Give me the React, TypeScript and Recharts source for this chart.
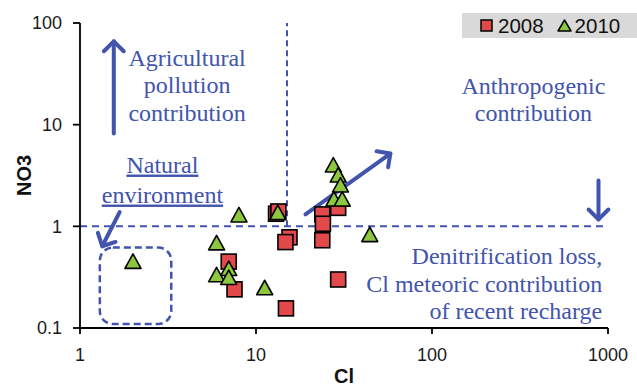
import React from 'react';
import { ScatterChart, Scatter, XAxis, YAxis, ReferenceLine, ReferenceArea, ReferenceDot, Legend } from 'recharts';

// Cl vs NO3 (mg/L), two sampling campaigns
const cl2008 = [13.0, 13.4, 15.5, 14.7, 7.0, 7.55, 14.8, 29.3, 23.8, 24.0, 23.8, 29.3];
const no32008 = [1.33, 1.4, 0.78, 0.7, 0.45, 0.24, 0.156, 1.52, 1.31, 1.06, 0.73, 0.3];
const cl2010 = [2.0, 5.97, 7.0, 5.97, 7.0, 11.2, 8.0, 13.3, 27.5, 29.3, 30.2, 27.7, 30.9, 44.3];
const no32010 = [0.447, 0.68, 0.38, 0.33, 0.31, 0.246, 1.28, 1.35, 3.96, 3.16, 2.52, 1.83, 1.83, 0.82];

const xTicks = [1, 10, 100, 1000];
const yTicks = [0.1, 1, 10, 100];

// thresholds (Cl = 15, NO3 = 1)
const clLimit = 15;
const no3Limit = 1;

// arrows, in data units [cl, no3]
const arrows = [
  { from: [1.556, 8.2], to: [1.556, 66] },
  { from: [19.1, 1.31], to: [58, 5.2] },
  { from: [1.68, 1.38], to: [1.337, 0.637] },
  { from: [883, 2.82], to: [883, 1.17] },
];

// text notes: anchor point in data units
const notes = [
  { cl: 4.06, no3: 37.9, anchor: 'middle', lines: ['Agricultural', 'pollution', 'contribution'], underline: false },
  { cl: 377, no3: 20.1, anchor: 'middle', lines: ['Anthropogenic', 'contribution'], underline: false },
  { cl: 2.94, no3: 3.38, anchor: 'middle', lines: ['Natural', 'environment'], underline: true },
  { cl: 927, no3: 0.424, anchor: 'end', lines: ['Denitrification loss,', 'Cl meteoric contribution', 'of recent recharge'], underline: false },
];

// natural background box
const naturalBox = { cl1: 1.296, cl2: 3.3, no31: 0.1095, no32: 0.618 };

const data2008 = cl2008.map((cl, i) => ({ cl, no3: no32008[i] }));
const data2010 = cl2010.map((cl, i) => ({ cl, no3: no32010[i] }));

const RED = '#e2494b';
const GREEN = '#8dc63f';
const BLUE = '#4254ad';
const SANS = '"Liberation Sans"';
const SERIF = '"Liberation Serif"';

const Square = (p: any) => (
  <rect x={p.cx - 7.5} y={p.cy - 7.5} width={15} height={15} fill={RED} stroke="#000" strokeWidth={1.6} />
);

const Tri = (p: any) => (
  <polygon
    points={`${p.cx},${p.cy - 8} ${p.cx + 8},${p.cy + 6.5} ${p.cx - 8},${p.cy + 6.5}`}
    fill={GREEN}
    stroke="#000"
    strokeWidth={1.6}
    strokeLinejoin="round"
  />
);

const Arrow = (p: any) => {
  const { x1, y1, x2, y2 } = p;
  const a = Math.atan2(y2 - y1, x2 - x1);
  const h = 14;
  const lx = x2 - h * Math.cos(a - Math.PI / 4);
  const ly = y2 - h * Math.sin(a - Math.PI / 4);
  const rx = x2 - h * Math.cos(a + Math.PI / 4);
  const ry = y2 - h * Math.sin(a + Math.PI / 4);
  return (
    <g stroke={BLUE} strokeWidth={4} fill="none" strokeLinecap="round" strokeLinejoin="round">
      <line x1={x1} y1={y1} x2={x2} y2={y2} />
      <polyline points={`${lx},${ly} ${x2},${y2} ${rx},${ry}`} />
    </g>
  );
};

const noteShape = (n: any) => (p: any) => (
  <text x={p.cx} y={p.cy} textAnchor={n.anchor} fill={BLUE} fontFamily={SERIF} fontSize={24} style={{ fontFamily: SERIF, fontSize: 24 }}>
    {n.lines.map((t: string, i: number) => (
      <tspan key={i} x={p.cx} dy={i === 0 ? 0 : n.underline ? 30 : 27.5} textDecoration={n.underline ? 'underline' : undefined} style={{ fontFamily: SERIF }}>
        {t}
      </tspan>
    ))}
  </text>
);

const BoxShape = (p: any) => (
  <rect x={p.x} y={p.y} width={p.width} height={p.height} rx={13} ry={13} fill="none" stroke={BLUE} strokeWidth={2.5} strokeDasharray="7 4" />
);

const LegendBox = () => (
  <div
    style={{
      display: 'flex',
      alignItems: 'center',
      height: 25,
      width: 175,
      background: '#d9d9d9',
      fontFamily: SANS,
      fontSize: 20.5,
      color: '#111',
      lineHeight: '25px',
    }}
  >
    <svg width={13} height={13} style={{ marginLeft: 18 }}>
      <rect x={1} y={1} width={11} height={11} fill={RED} stroke="#000" strokeWidth={1.5} />
    </svg>
    <span style={{ marginLeft: 5 }}>2008</span>
    <svg width={15} height={13} style={{ marginLeft: 13 }}>
      <polygon points="7.5,1 14,12 1,12" fill={GREEN} stroke="#000" strokeWidth={1.5} strokeLinejoin="round" />
    </svg>
    <span style={{ marginLeft: 3 }}>2010</span>
  </div>
);

const YTitle = (p: any) => {
  const vb = p.viewBox;
  const cx = vb.x + 24;
  const cy = vb.y + vb.height / 2;
  return (
    <text x={cx} y={cy} transform={`rotate(-90 ${cx} ${cy})`} textAnchor="middle" dominantBaseline="central" style={{ fontFamily: SANS, fontSize: 20, fontWeight: 'bold' }} fill="#111">
      NO3
    </text>
  );
};

export default function App() {
  return (
    <div style={{ width: 637, height: 387, background: '#fff' }}>
      <style>{'body{margin:0}'}</style>
      <ScatterChart width={637} height={387} margin={{ top: 23, right: 29, bottom: 0, left: 0 }}>
        <XAxis
          type="number"
          dataKey="cl"
          scale="log"
          domain={[1, 1000]}
          ticks={xTicks}
          allowDataOverflow
          height={59}
          tickSize={6}
          tickMargin={14}
          axisLine={{ stroke: '#000', strokeWidth: 1.8 }}
          tickLine={{ stroke: '#000', strokeWidth: 1.8 }}
          tick={{ fill: '#1a1a1a', fontFamily: SANS, fontSize: 18 }}
          label={{ value: 'Cl', position: 'insideBottom', offset: 4, fontFamily: SANS, fontSize: 20, fontWeight: 'bold', fill: '#111' }}
        />
        <YAxis
          type="number"
          dataKey="no3"
          scale="log"
          domain={[0.1, 100]}
          ticks={yTicks}
          allowDataOverflow
          width={80}
          tickSize={7}
          tickMargin={11}
          axisLine={{ stroke: '#000', strokeWidth: 1.8 }}
          tickLine={{ stroke: '#000', strokeWidth: 1.8 }}
          tick={{ fill: '#1a1a1a', fontFamily: SANS, fontSize: 18 }}
          label={{ content: YTitle }}
        />
        <Legend layout="vertical" align="center" verticalAlign="middle" content={LegendBox} wrapperStyle={{ left: 462, top: 13, width: 175, height: 25 }} />

        <ReferenceLine y={no3Limit} stroke={BLUE} strokeWidth={2} strokeDasharray="7 5" />
        <ReferenceLine segment={[{ x: clLimit, y: no3Limit }, { x: clLimit, y: 100 }]} stroke={BLUE} strokeWidth={2} strokeDasharray="6 4" />
        <ReferenceArea x1={naturalBox.cl1} x2={naturalBox.cl2} y1={naturalBox.no31} y2={naturalBox.no32} shape={BoxShape} />

        {arrows.map((a, i) => (
          <ReferenceLine key={'a' + i} segment={[{ x: a.from[0], y: a.from[1] }, { x: a.to[0], y: a.to[1] }]} shape={Arrow} />
        ))}
        {notes.map((n, i) => (
          <ReferenceDot key={'n' + i} x={n.cl} y={n.no3} r={0} shape={noteShape(n)} />
        ))}

        <Scatter name="2008" data={data2008} shape={Square} isAnimationActive={false} />
        <Scatter name="2010" data={data2010} shape={Tri} isAnimationActive={false} />
      </ScatterChart>
    </div>
  );
}
